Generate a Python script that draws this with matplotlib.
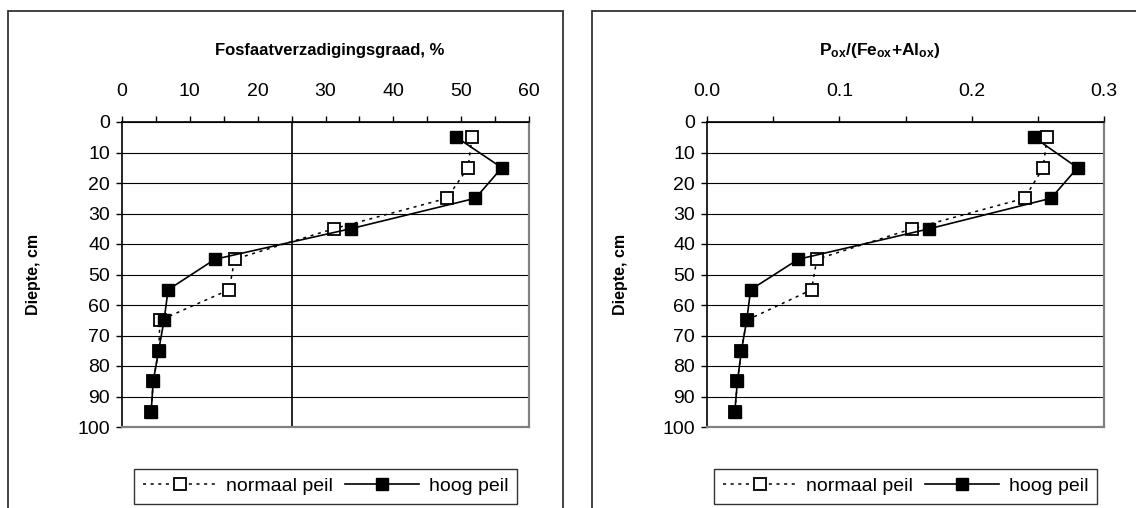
import matplotlib
matplotlib.use("Agg")
import matplotlib.pyplot as plt
from matplotlib.patches import Rectangle
from matplotlib.ticker import MultipleLocator

plt.rcParams["font.family"] = ["Liberation Sans", "DejaVu Sans"]
plt.rcParams["mathtext.fontset"] = "custom"
plt.rcParams["mathtext.rm"] = "Liberation Sans"
plt.rcParams["mathtext.bf"] = "Liberation Sans:bold"

# depth (cm), midpoints of 10 cm layers
depth = [5, 15, 25, 35, 45, 55, 65, 75, 85, 95]

# fosfaatverzadigingsgraad, %
fvg_normaal = [51.6, 51.0, 47.9, 31.2, 16.6, 15.8, 5.6, 5.4, 4.6, 4.3]
fvg_hoog = [49.3, 56.0, 52.1, 33.7, 13.7, 6.8, 6.2, 5.4, 4.6, 4.3]

# P_ox / (Fe_ox + Al_ox)
ratio_normaal = [0.257, 0.254, 0.240, 0.155, 0.083, 0.079, 0.030, 0.026, 0.023, 0.021]
ratio_hoog = [0.247, 0.280, 0.260, 0.168, 0.069, 0.033, 0.030, 0.026, 0.023, 0.021]

W, H = 1136, 508
FS = 14

fig = plt.figure(figsize=(W / 100, H / 100), dpi=100)

# chart area frames
fig.patches.append(Rectangle((8 / W, -0.1), (563 - 8) / W, 1.1 - 11 / H,
                             transform=fig.transFigure, fill=False,
                             edgecolor="#333333", lw=1.3))
fig.patches.append(Rectangle((592 / W, -0.1), 0.6, 1.1 - 11 / H,
                             transform=fig.transFigure, fill=False,
                             edgecolor="#333333", lw=1.3))


def make_axes(x0, x1, xmax, major, minor, fmt):
    ax = fig.add_axes([x0 / W, (H - 427) / H, (x1 - x0) / W, 305 / H])
    ax.set_xlim(0, xmax)
    ax.set_ylim(100, 0)
    ax.xaxis.tick_top()
    ax.xaxis.set_major_locator(MultipleLocator(major))
    ax.xaxis.set_minor_locator(MultipleLocator(minor))
    ax.yaxis.set_major_locator(MultipleLocator(10))
    ax.xaxis.set_major_formatter(fmt)
    ax.tick_params(axis="x", which="both", direction="out", length=4,
                   width=1, pad=12, labelsize=FS)
    ax.tick_params(axis="y", direction="out", length=4, width=1, pad=4.5,
                   labelsize=FS)
    for s in ["top", "left"]:
        ax.spines[s].set_color("black")
        ax.spines[s].set_linewidth(1.2)
    for s in ["right", "bottom"]:
        ax.spines[s].set_color("#808080")
        ax.spines[s].set_linewidth(1.6)
    ax.grid(axis="y", color="black", lw=0.8)
    ax.set_axisbelow(True)
    ax.set_ylabel("Diepte, cm", fontsize=11.5, fontweight="bold")
    ax.yaxis.set_label_coords(-0.2, 0.5)
    return ax


def draw(ax, normaal, hoog):
    ax.plot(normaal, depth, color="black", lw=1.1, ls=(0, (2, 3)),
            marker="s", ms=8.5, mfc="white", mec="black", mew=1.3,
            label="normaal peil", zorder=3)
    ax.plot(hoog, depth, color="black", lw=1.2, ls="-",
            marker="s", ms=9, mfc="black", mec="black",
            label="hoog peil", zorder=4)
    leg = ax.legend(loc="center", bbox_to_anchor=(0.5, -0.195), ncol=2,
                    frameon=True, fancybox=False, edgecolor="black",
                    fontsize=FS, handlelength=3.8, columnspacing=0.6,
                    handletextpad=0.5, borderpad=0.45)
    leg.get_frame().set_linewidth(1.0)


ax1 = make_axes(122, 529, 60, 10, 5, "{x:g}")
ax1.axvline(25, color="black", lw=1.2, zorder=2)
draw(ax1, fvg_normaal, fvg_hoog)

ax2 = make_axes(707, 1104, 0.3, 0.1, 0.05, "{x:.1f}")
draw(ax2, ratio_normaal, ratio_hoog)

fig.text(330 / W, 1 - 51 / H, "Fosfaatverzadigingsgraad, %", ha="center",
         va="center", fontsize=12, fontweight="bold")
fig.text(880 / W, 1 - 51 / H,
         r"$\mathbf{P_{ox}/(Fe_{ox}{+}Al_{ox})}$", ha="center", va="center",
         fontsize=12.5)

fig.savefig("out.png", dpi=100)
